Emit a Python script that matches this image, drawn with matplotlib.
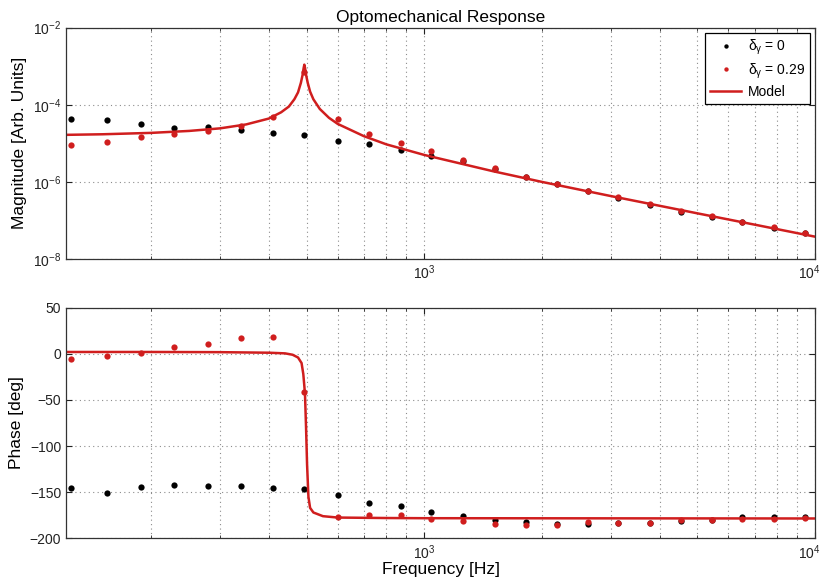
import matplotlib
matplotlib.use("Agg")
import matplotlib.pyplot as plt
import matplotlib.transforms as mtransforms
from matplotlib.ticker import LogLocator, NullFormatter, NullLocator

plt.rcParams['font.family'] = ['Liberation Sans', 'DejaVu Sans']
plt.rcParams['mathtext.fontset'] = 'custom'
plt.rcParams['mathtext.rm'] = 'Liberation Sans'
plt.rcParams['mathtext.it'] = 'Liberation Sans'
plt.rcParams['mathtext.bf'] = 'Liberation Sans:bold'

# measured points (Hz)
freq = [124.6, 154, 188, 229, 279, 339, 409, 493, 600, 723, 871, 1040,
        1259, 1514, 1820, 2185, 2622, 3135, 3779, 4540, 5450, 6520, 7835, 9400]

mag_d0 = [4.2e-5, 4.1e-5, 3.2e-5, 2.5e-5, 2.6e-5, 2.2e-5, 1.85e-5, 1.6e-5,
          1.18e-5, 9.6e-6, 6.8e-6, 4.8e-6, 3.4e-6, 2.2e-6, 1.36e-6, 8.7e-7,
          5.9e-7, 3.8e-7, 2.46e-7, 1.7e-7, 1.26e-7, 9.2e-8, 6.4e-8, 4.7e-8]
mag_d029 = [9.1e-6, 1.1e-5, 1.48e-5, 1.7e-5, 2.15e-5, 2.9e-5, 4.9e-5, 7.2e-4,
            4.4e-5, 1.74e-5, 1.05e-5, 6.2e-6, 3.6e-6, 2.25e-6, 1.36e-6, 8.7e-7,
            5.9e-7, 4.0e-7, 2.7e-7, 1.78e-7, 1.27e-7, 9.2e-8, 6.6e-8, 4.7e-8]

phase_d0 = [-145.4, -151.2, -144.7, -142.6, -143, -143.3, -145.1, -146.2,
            -152.7, -161.4, -165.3, -171.1, -175.8, -180.2, -182.7, -184,
            -184.9, -183.5, -183, -181, -180, -176.6, -177, -176.6]
phase_d029 = [-6, -2.7, 0.6, 7.1, 11, 17.5, 18.2, -41, -177.3, -175, -175,
              -179.4, -180.9, -184.2, -185.3, -186, -182, -183.7, -183.7,
              -180, -180, -178.7, -178.7, -178]

# model curve
model_f_mag = [120, 150, 200, 250, 300, 350, 400, 430, 450, 465, 475, 483, 488,
               491, 493, 495, 498, 503, 510, 520, 540, 570, 600, 700, 800, 1000,
               1500, 2000, 3000, 5000, 7000, 10000]
model_mag = [1.66e-5, 1.72e-5, 1.87e-5, 2.1e-5, 2.45e-5, 3.1e-5, 4.4e-5, 6.4e-5,
             9.0e-5, 1.4e-4, 2.1e-4, 3.7e-4, 6.0e-4, 9.0e-4, 1.1e-3, 9.0e-4,
             6.0e-4, 3.7e-4, 2.2e-4, 1.39e-4, 7.8e-5, 4.6e-5, 3.2e-5, 1.54e-5,
             9.4e-6, 5.0e-6, 1.89e-6, 1.0e-6, 4.3e-7, 1.53e-7, 7.8e-8, 3.8e-8]

model_f_phase = [120, 200, 300, 400, 440, 460, 475, 485, 490, 493, 495, 498,
                 501, 505, 510, 520, 550, 600, 800, 1000, 10000]
model_phase = [2, 2, 1.8, 1.2, 0.5, -1, -4, -10, -22, -35, -45, -80, -120,
               -155, -167, -172, -176, -177.5, -178, -178.2, -178.5]

red = '#d01e1e'

fig = plt.figure(figsize=(8.23, 5.88), dpi=100)
ax1 = fig.add_axes([0.0802, 0.5595, 0.9101, 0.3934])
ax2 = fig.add_axes([0.0802, 0.0845, 0.9101, 0.3922])

for ax in (ax1, ax2):
    ax.set_xscale('log')
    ax.set_xlim(121, 1e4)
    ax.xaxis.set_minor_locator(LogLocator(base=10, subs=range(2, 10)))
    ax.xaxis.set_minor_formatter(NullFormatter())
    ax.tick_params(which='both', direction='in', top=True, right=True,
                   labelsize=10, colors='#222222')
    ax.tick_params(which='major', length=4)
    ax.tick_params(which='minor', length=2.5)
    ax.grid(True, which='both', axis='x', ls=(0, (1, 3)), color='0.55', lw=0.8)
    ax.grid(True, which='major', axis='y', ls=(0, (1, 3)), color='0.55', lw=0.8)
    for s in ax.spines.values():
        s.set_color('#333333')
        s.set_linewidth(0.9)

ax1.plot(freq, mag_d0, 'o', color='black', ms=4.5, mec='none', label=r'$\delta_{\gamma}$ = 0')
ax1.plot(freq, mag_d029, 'o', color=red, ms=4.5, mec='none', label=r'$\delta_{\gamma}$ = 0.29')
ax1.plot(model_f_mag, model_mag, '-', color=red, lw=1.8, label='Model')
ax1.set_yscale('log')
ax1.set_ylim(1e-8, 1e-2)
ax1.set_yticks([1e-8, 1e-6, 1e-4, 1e-2])
ax1.yaxis.set_minor_locator(NullLocator())
ax1.set_ylabel('Magnitude [Arb. Units]', fontsize=12.5)
ax1.set_title('Optomechanical Response', fontsize=12.5, pad=4)
leg = ax1.legend(loc='upper right', bbox_to_anchor=(0.993, 0.977), fontsize=10,
                 fancybox=False, framealpha=1, edgecolor='black',
                 handlelength=2.2, borderpad=0.35, labelspacing=0.3,
                 borderaxespad=0, markerscale=0.7, handletextpad=0.5)
leg.get_frame().set_linewidth(0.9)

ax2.plot(freq, phase_d0, 'o', color='black', ms=4.5, mec='none')
ax2.plot(freq, phase_d029, 'o', color=red, ms=4.5, mec='none')
ax2.plot(model_f_phase, model_phase, '-', color=red, lw=1.8)
ax2.set_ylim(-200, 50)
ax2.set_yticks([-200, -150, -100, -50, 0, 50])
ax2.set_ylabel('Phase [deg]', fontsize=12.5)
ax2.set_xlabel('Frequency [Hz]', fontsize=12.5, labelpad=0)

# nudge the 10^4 labels so they stay inside the figure
fig.canvas.draw()
shift = mtransforms.ScaledTranslation(-6 / 100, 0, fig.dpi_scale_trans)
for ax in (ax1, ax2):
    for lab in ax.get_xticklabels():
        if lab.get_position()[0] >= 9999:
            lab.set_transform(lab.get_transform() + shift)

fig.savefig('out.png', dpi=100)
